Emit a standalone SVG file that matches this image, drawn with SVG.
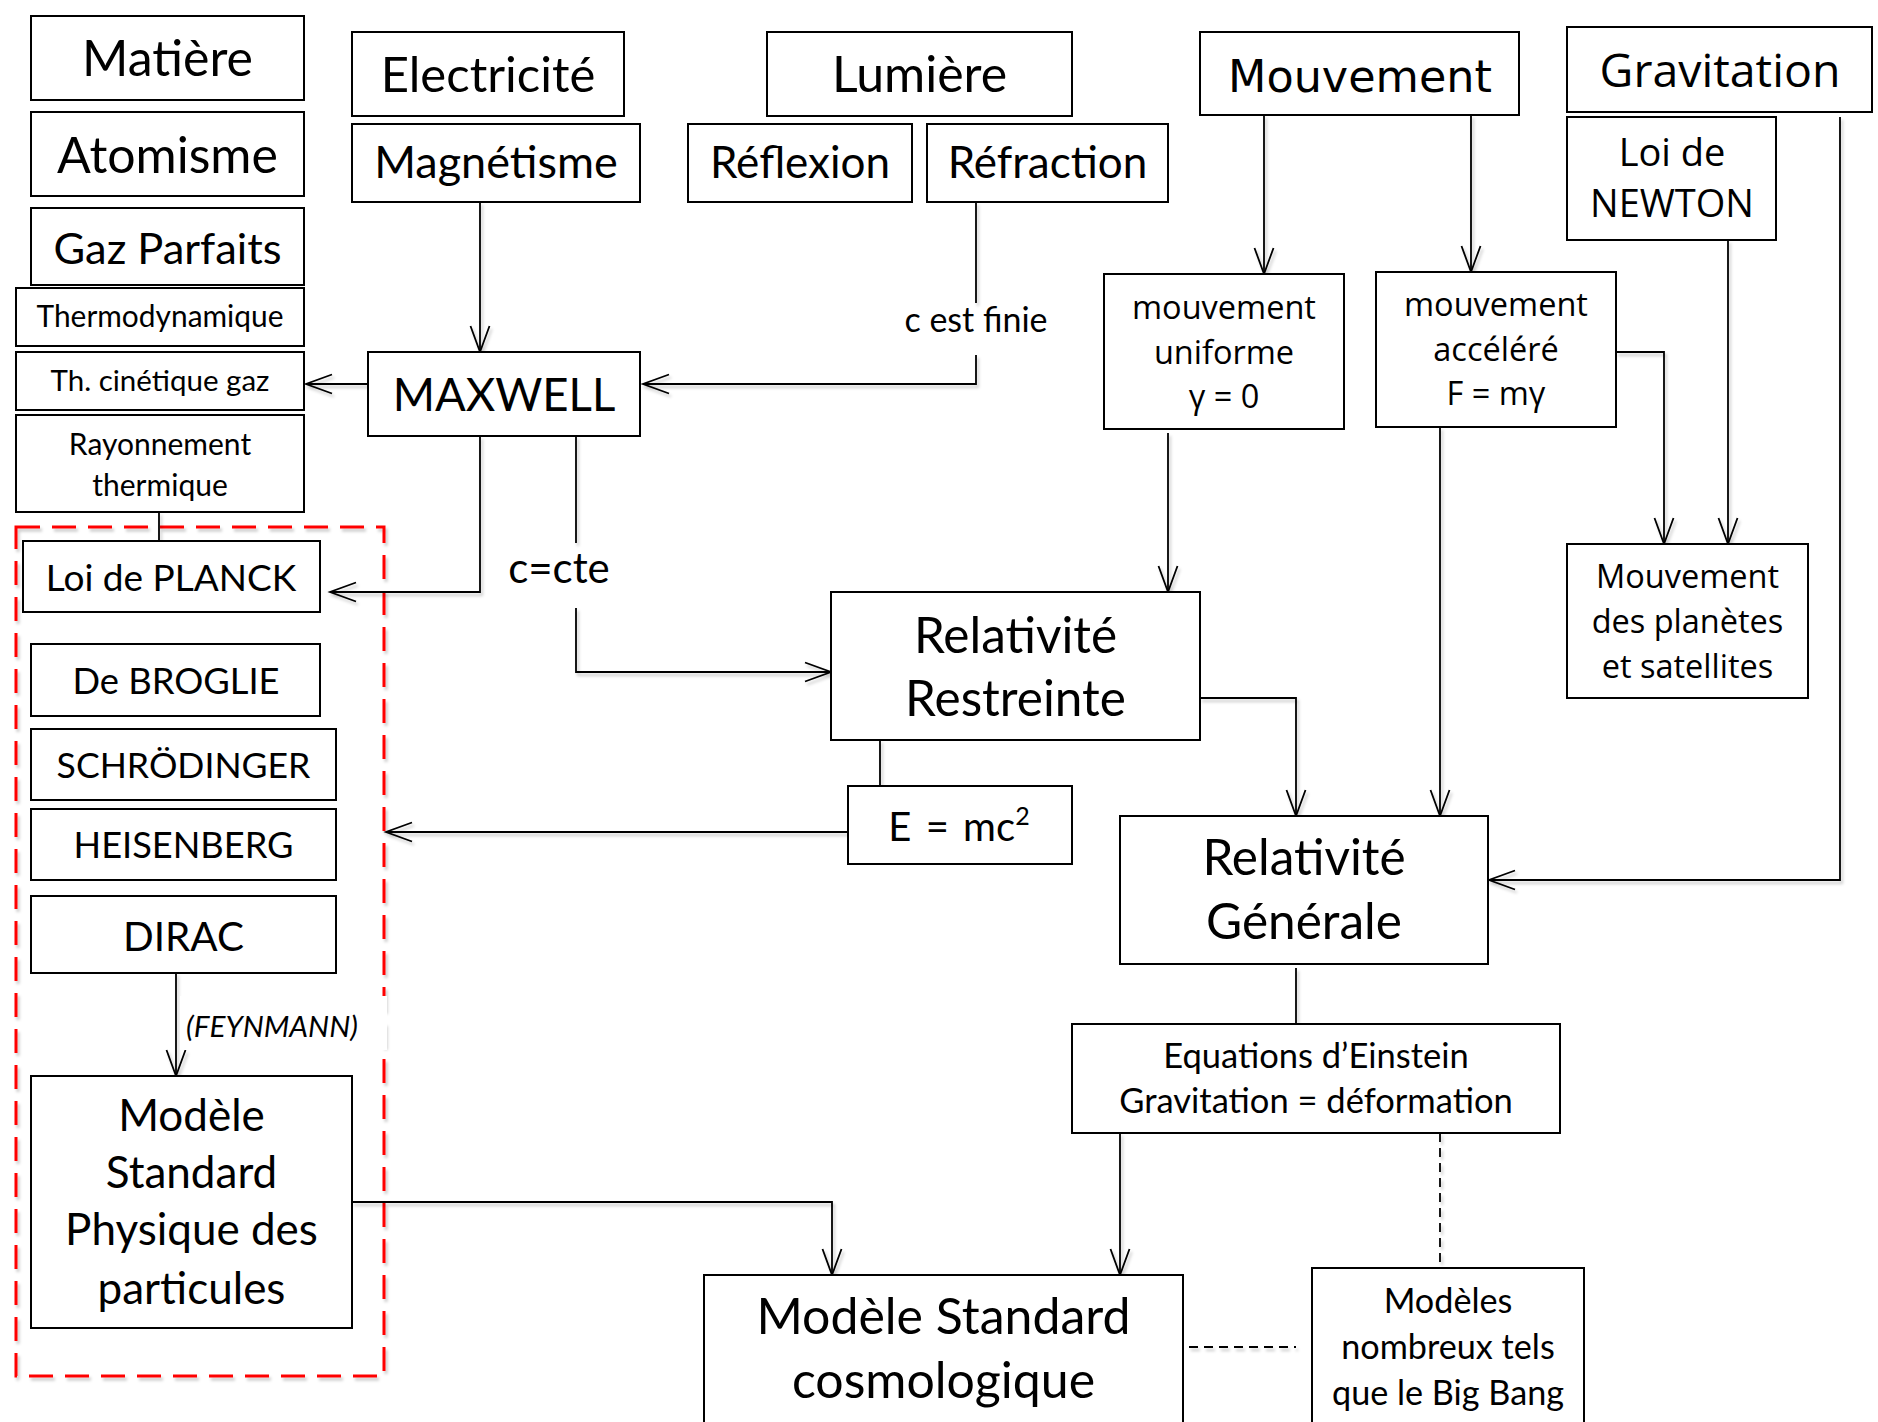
<svg xmlns="http://www.w3.org/2000/svg" width="1878" height="1422" viewBox="0 0 1878 1422">
<defs>
<style>
.box{fill:#fff;stroke:#000;stroke-width:2}
.c{font-family:Lato,"Liberation Sans",sans-serif;fill:#000;text-anchor:middle}
.t{font-family:"Open Sans","DejaVu Sans",sans-serif;fill:#000;text-anchor:middle}
.v{font-family:"DejaVu Sans","Open Sans",sans-serif;fill:#000;text-anchor:middle}
.ln{fill:none;stroke:#000;stroke-width:1.8}
.arr{marker-end:url(#ah)}
.dash{stroke-dasharray:9 6}
.red{fill:none;stroke:#ff0000;stroke-width:3;stroke-dasharray:24 12}
</style>
<marker id="ah" markerUnits="userSpaceOnUse" markerWidth="32" markerHeight="26" viewBox="-29 -13 32 26" refX="0" refY="0" orient="auto">
<path d="M-26,-9.5 L0,0 L-26,9.5" fill="none" stroke="#000" stroke-width="1.8"/>
</marker>
<filter id="sh" filterUnits="userSpaceOnUse" x="0" y="0" width="1878" height="1422">
<feDropShadow dx="2" dy="3" stdDeviation="1.5" flood-color="#000" flood-opacity="0.22"/>
</filter>
</defs>
<rect width="1878" height="1422" fill="#fff"/>

<g id="red-group" filter="url(#sh)"><rect class="red" x="16" y="527" width="368" height="849"/></g>

<g id="connectors" filter="url(#sh)">
<path class="ln arr" d="M480,202 V352"/>
<path class="ln arr" d="M368,384 H306"/>
<path class="ln" d="M976,202 V303"/>
<path class="ln arr" d="M976,355 V384 H643"/>
<path class="ln arr" d="M480,436 V592 H330"/>
<path class="ln" d="M576,436 V543"/>
<path class="ln arr" d="M576,608 V672 H831"/>
<path class="ln" d="M159,512 V548"/>
<path class="ln arr" d="M1200,698 H1296 V816"/>
<path class="ln arr" d="M1168,433 V592"/>
<path class="ln arr" d="M1264,115 V274"/>
<path class="ln arr" d="M1471,115 V272"/>
<path class="ln arr" d="M1440,427 V816"/>
<path class="ln arr" d="M1616,352 H1664 V544"/>
<path class="ln arr" d="M1728,240 V544"/>
<path class="ln arr" d="M1840,117 V880 H1489"/>
<path class="ln" d="M880,740 V786"/>
<path class="ln arr" d="M848,832 H386"/>
<path class="ln" d="M1296,968 V1024"/>
<path class="ln arr" d="M1120,1133 V1275"/>
<path class="ln dash" d="M1440,1133 V1268"/>
<path class="ln arr" d="M352,1202 H832 V1275"/>
<path class="ln dash" d="M1189,1347 H1296"/>
<path class="ln arr" d="M176,973 V1076"/>
</g>

<g id="labels">
<rect x="180" y="996" width="207" height="54" fill="#fff"/>
<text x="186" y="1037" font-family="Lato,'Liberation Sans',sans-serif" font-style="italic" font-size="29.7">(FEYNMANN)</text>
<text class="c" x="976" y="332" font-size="34">c est finie</text>
<text class="c" x="559" y="583" font-size="42">c=cte</text>
</g>

<g id="matiere"><rect class="box" x="31" y="16" width="273" height="84"/><text class="c" x="167.5" y="76" font-size="50">Matière</text></g>
<g id="atomisme"><rect class="box" x="31" y="112" width="273" height="84"/><text class="c" x="167.5" y="172.5" font-size="50">Atomisme</text></g>
<g id="gaz"><rect class="box" x="31" y="208" width="273" height="77"/><text class="c" x="167.5" y="264" font-size="43.4">Gaz Parfaits</text></g>
<g id="thermo"><rect class="box" x="16" y="288" width="288" height="58"/><text class="c" x="160" y="327" font-size="29.9">Thermodynamique</text></g>
<g id="cinetique"><rect class="box" x="16" y="352" width="288" height="58"/><text class="c" x="160" y="391" font-size="29.5">Th. cinétique gaz</text></g>
<g id="rayonnement"><rect class="box" x="16" y="415" width="288" height="97"/><text class="c" font-size="30"><tspan x="160" y="455">Rayonnement</tspan><tspan x="160" y="496">thermique</tspan></text></g>
<g id="planck"><rect class="box" x="23" y="541" width="297" height="71"/><text class="c" x="171" y="591" font-size="37">Loi de PLANCK</text></g>
<g id="broglie"><rect class="box" x="31" y="644" width="289" height="72"/><text class="c" x="176" y="694" font-size="36.3">De BROGLIE</text></g>
<g id="schrodinger"><rect class="box" x="31" y="729" width="305" height="71"/><text class="c" x="183.5" y="778" font-size="35.6">SCHRÖDINGER</text></g>
<g id="heisenberg"><rect class="box" x="31" y="809" width="305" height="71"/><text class="c" x="183.5" y="858" font-size="36.2">HEISENBERG</text></g>
<g id="dirac"><rect class="box" x="31" y="896" width="305" height="77"/><text class="c" x="183.5" y="951" font-size="40.4">DIRAC</text></g>
<g id="mspp"><rect class="box" x="31" y="1076" width="321" height="252"/><text class="c" font-size="44"><tspan x="191.5" y="1131">Modèle</tspan><tspan x="191.5" y="1188">Standard</tspan><tspan x="191.5" y="1245">Physique des</tspan><tspan x="191.5" y="1304">particules</tspan></text></g>

<g id="electricite"><rect class="box" x="352" y="32" width="272" height="84"/><text class="c" x="488" y="92" font-size="49">Electricité</text></g>
<g id="magnetisme"><rect class="box" x="352" y="124" width="288" height="78"/><text class="c" x="496" y="178" font-size="45">Magnétisme</text></g>
<g id="lumiere"><rect class="box" x="767" y="32" width="305" height="84"/><text class="c" x="919.5" y="92" font-size="50">Lumière</text></g>
<g id="reflexion"><rect class="box" x="688" y="124" width="224" height="78"/><text class="c" x="800" y="178" font-size="44">Réflexion</text></g>
<g id="refraction"><rect class="box" x="927" y="124" width="241" height="78"/><text class="c" x="1047.5" y="178" font-size="44">Réfraction</text></g>
<g id="maxwell"><rect class="box" x="368" y="352" width="272" height="84"/><text class="c" x="504" y="411" font-size="45.5">MAXWELL</text></g>

<g id="mouvement"><rect class="box" x="1200" y="32" width="319" height="83"/><text class="v" x="1360" y="92" font-size="44.5">Mouvement</text></g>
<g id="gravitation"><rect class="box" x="1567" y="27" width="305" height="85"/><text class="t" x="1720" y="87" font-size="46.5">Gravitation</text></g>
<g id="newton"><rect class="box" x="1567" y="117" width="209" height="123"/><text class="t" font-size="38"><tspan x="1672" y="166">Loi de</tspan><tspan x="1672" y="217">NEWTON</tspan></text></g>
<g id="uniforme"><rect class="box" x="1104" y="274" width="240" height="155"/><text class="t" font-size="32.5"><tspan x="1224" y="319">mouvement</tspan><tspan x="1224" y="364">uniforme</tspan><tspan x="1224" y="408">γ = 0</tspan></text></g>
<g id="accelere"><rect class="box" x="1376" y="272" width="240" height="155"/><text class="t" font-size="32.5"><tspan x="1496" y="316">mouvement</tspan><tspan x="1496" y="361">accéléré</tspan><tspan x="1496" y="405">F = mγ</tspan></text></g>
<g id="planetes"><rect class="box" x="1567" y="544" width="241" height="154"/><text class="t" font-size="32.5"><tspan x="1687.5" y="588">Mouvement</tspan><tspan x="1687.5" y="633">des planètes</tspan><tspan x="1687.5" y="678">et satellites</tspan></text></g>

<g id="rr"><rect class="box" x="831" y="592" width="369" height="148"/><text class="c" font-size="49.5"><tspan x="1015.5" y="653">Relativité</tspan><tspan x="1015.5" y="716">Restreinte</tspan></text></g>
<g id="emc2"><rect class="box" x="848" y="786" width="224" height="78"/><text class="c" x="959" y="841" font-size="40" word-spacing="4">E = mc<tspan font-size="25" dy="-16">2</tspan></text></g>
<g id="rg"><rect class="box" x="1120" y="816" width="368" height="148"/><text class="c" font-size="49.5"><tspan x="1304" y="875">Relativité</tspan><tspan x="1304" y="939">Générale</tspan></text></g>
<g id="equations"><rect class="box" x="1072" y="1024" width="488" height="109"/><text class="c" font-size="34.5"><tspan x="1316" y="1068">Equations d’Einstein</tspan><tspan x="1316" y="1113">Gravitation = déformation</tspan></text></g>
<g id="msc"><rect class="box" x="704" y="1275" width="479" height="200"/><text class="c" font-size="50"><tspan x="943.5" y="1334">Modèle Standard</tspan><tspan x="943.5" y="1398">cosmologique</tspan></text></g>
<g id="modeles"><rect class="box" x="1312" y="1268" width="272" height="200"/><text class="c" font-size="34.2"><tspan x="1448" y="1313">Modèles</tspan><tspan x="1448" y="1359">nombreux tels</tspan><tspan x="1448" y="1405">que le Big Bang</tspan></text></g>
</svg>
